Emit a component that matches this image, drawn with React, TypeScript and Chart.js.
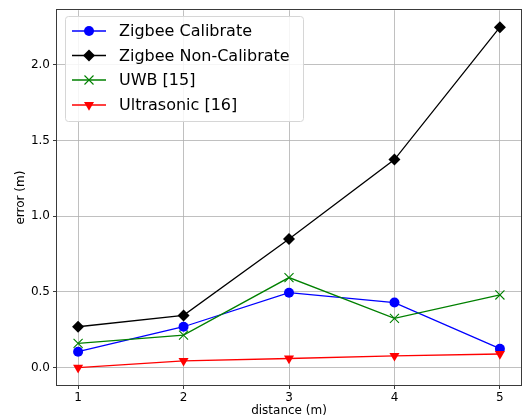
import React, { useEffect, useRef } from "react";
import { Chart, registerables } from "chart.js";

Chart.register(...registerables);

const distances = [1, 2, 3, 4, 5];
const zigbeeCalibrate = [0.105, 0.27, 0.495, 0.43, 0.125];
const zigbeeNonCalibrate = [0.27, 0.345, 0.85, 1.375, 2.25];
const uwb = [0.16, 0.215, 0.595, 0.325, 0.48];
const ultrasonic = [0.0, 0.045, 0.06, 0.078, 0.09];
const yTicks = [0, 0.5, 1.0, 1.5, 2.0];
const xTicks = [1, 2, 3, 4, 5];

const seriesNames = ["Zigbee Calibrate", "Zigbee Non-Calibrate", "UWB [15]", "Ultrasonic [16]"];
const seriesColors = ["#0000ff", "#000000", "#008000", "#ff0000"];
const seriesMarkers = ["circle", "diamond", "cross", "tri"];

const FONT = "'DejaVu Sans', sans-serif";

function drawMarker(ctx: CanvasRenderingContext2D, kind: string, x: number, y: number, color: string) {
  ctx.save();
  ctx.fillStyle = color;
  ctx.strokeStyle = color;
  ctx.beginPath();
  if (kind === "circle") {
    ctx.arc(x, y, 5, 0, Math.PI * 2);
    ctx.fill();
  } else if (kind === "diamond") {
    const r = 6;
    ctx.moveTo(x, y - r);
    ctx.lineTo(x + r, y);
    ctx.lineTo(x, y + r);
    ctx.lineTo(x - r, y);
    ctx.closePath();
    ctx.fill();
  } else if (kind === "cross") {
    const r = 4.5;
    ctx.lineWidth = 1.1;
    ctx.moveTo(x - r, y - r);
    ctx.lineTo(x + r, y + r);
    ctx.moveTo(x + r, y - r);
    ctx.lineTo(x - r, y + r);
    ctx.stroke();
  } else {
    const r = 5.8;
    ctx.moveTo(x - r * 0.866, y - r * 0.5);
    ctx.lineTo(x + r * 0.866, y - r * 0.5);
    ctx.lineTo(x, y + r);
    ctx.closePath();
    ctx.fill();
  }
  ctx.restore();
}

const framePlugin = {
  id: "frameAndLegend",
  afterDatasetsDraw(chart: any) {
    const { ctx, chartArea } = chart;
    const { left, right, top, bottom } = chartArea;
    ctx.save();
    ctx.strokeStyle = "#3a3a3a";
    ctx.lineWidth = 1;
    ctx.strokeRect(Math.round(left) - 0.5, Math.round(top) - 0.5, Math.round(right - left) + 1, Math.round(bottom - top) + 1);

    // legend
    const bx = 65.5, by = 16.5, bw = 238, bh = 105, rr = 3;
    ctx.beginPath();
    ctx.moveTo(bx + rr, by);
    ctx.lineTo(bx + bw - rr, by);
    ctx.quadraticCurveTo(bx + bw, by, bx + bw, by + rr);
    ctx.lineTo(bx + bw, by + bh - rr);
    ctx.quadraticCurveTo(bx + bw, by + bh, bx + bw - rr, by + bh);
    ctx.lineTo(bx + rr, by + bh);
    ctx.quadraticCurveTo(bx, by + bh, bx, by + bh - rr);
    ctx.lineTo(bx, by + rr);
    ctx.quadraticCurveTo(bx, by, bx + rr, by);
    ctx.closePath();
    ctx.fillStyle = "rgba(255,255,255,0.85)";
    ctx.fill();
    ctx.strokeStyle = "#d6d6d6";
    ctx.lineWidth = 1;
    ctx.stroke();

    const rowsY = [31, 55.5, 80, 105];
    ctx.font = `16px ${FONT}`;
    ctx.textBaseline = "middle";
    ctx.textAlign = "left";
    seriesNames.forEach((name, i) => {
      const y = rowsY[i];
      ctx.beginPath();
      ctx.strokeStyle = seriesColors[i];
      ctx.lineWidth = 1.3;
      ctx.moveTo(72, y);
      ctx.lineTo(106, y);
      ctx.stroke();
      drawMarker(ctx, seriesMarkers[i], 89, y, seriesColors[i]);
      ctx.fillStyle = "#000";
      ctx.fillText(name, 119, y + 1);
    });
    ctx.restore();
  },
};

export default function App() {
  const ref = useRef<HTMLCanvasElement>(null);
  useEffect(() => {
    if (!ref.current) return;
    const mk = (vals: number[]) => distances.map((d, i) => ({ x: d, y: vals[i] }));
    const allVals = [zigbeeCalibrate, zigbeeNonCalibrate, uwb, ultrasonic];
    const styles: any[] = [
      { pointStyle: "circle", pointRadius: 5, pointRotation: 0 },
      { pointStyle: "rectRot", pointRadius: 6, pointRotation: 0 },
      { pointStyle: "crossRot", pointRadius: 6.4, pointRotation: 0, pointBorderWidth: 1.1 },
      { pointStyle: "triangle", pointRadius: 5.8, pointRotation: 180 },
    ];
    const datasets = allVals.map((vals, i) => ({
      label: seriesNames[i],
      data: mk(vals),
      borderColor: seriesColors[i],
      backgroundColor: seriesColors[i],
      pointBackgroundColor: seriesColors[i],
      pointBorderColor: seriesColors[i],
      pointBorderWidth: 0,
      borderWidth: 1.3,
      tension: 0,
      order: 3 - i,
      ...styles[i],
    }));
    const chart = new Chart(ref.current, {
      type: "line",
      data: { datasets },
      plugins: [framePlugin],
      options: {
        animation: false,
        responsive: false,
        devicePixelRatio: 1,
        layout: { padding: { left: 0, top: 8, right: 9, bottom: 0 } },
        plugins: { legend: { display: false }, tooltip: { enabled: false } },
        scales: {
          x: {
            type: "linear",
            min: 0.8,
            max: 5.2,
            afterFit: (s: any) => { s.height = 34; },
            afterBuildTicks: (s: any) => { s.ticks = xTicks.map((v) => ({ value: v })); },
            ticks: { color: "#000", font: { family: FONT, size: 12 }, padding: 2, callback: (v: any) => String(v), maxRotation: 0 },
            grid: { color: "#b0b0b0", lineWidth: 0.8, tickLength: 4, tickColor: "#3a3a3a", tickWidth: 1 },
            border: { display: false },
            title: { display: true, text: "distance (m)", color: "#000", font: { family: FONT, size: 12 }, padding: { top: 0, bottom: 1 } },
          },
          y: {
            type: "linear",
            min: -0.115,
            max: 2.362,
            afterFit: (s: any) => { s.width = 57; },
            afterBuildTicks: (s: any) => { s.ticks = yTicks.map((v) => ({ value: v })); },
            ticks: { color: "#000", font: { family: FONT, size: 12 }, padding: 3, callback: (v: any) => Number(v).toFixed(1) },
            grid: { color: "#b0b0b0", lineWidth: 0.8, tickLength: 4, tickColor: "#3a3a3a", tickWidth: 1 },
            border: { display: false },
            title: { display: true, text: "error (m)", color: "#000", font: { family: FONT, size: 12 }, padding: { top: 14, bottom: 0 } },
          },
        },
      } as any,
    });
    return () => chart.destroy();
  }, []);
  return (
    <div style={{ position: "absolute", left: 0, top: 0, width: 530, height: 419, background: "#fff" }}>
      <canvas ref={ref} width={530} height={419} style={{ width: 530, height: 419, display: "block" }} />
    </div>
  );
}
